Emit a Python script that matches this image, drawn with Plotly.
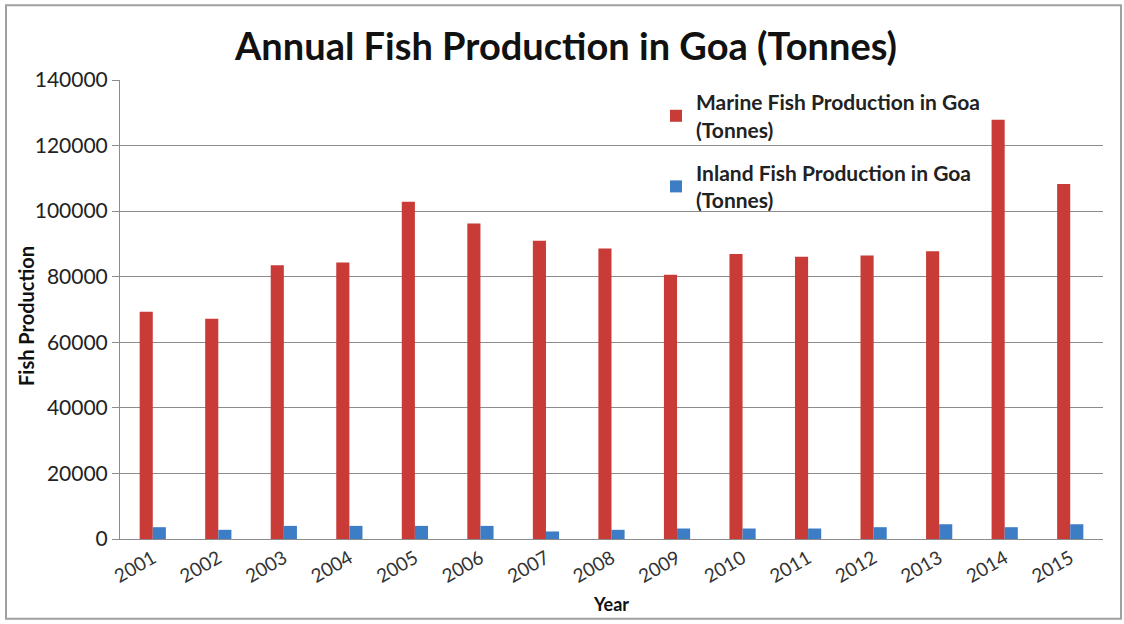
import plotly.graph_objects as go

years = ["2001", "2002", "2003", "2004", "2005", "2006", "2007", "2008",
         "2009", "2010", "2011", "2012", "2013", "2014", "2015"]
marine = [69300, 67200, 83500, 84300, 102900, 96200, 91000, 88600,
          80600, 86900, 86100, 86500, 87800, 127900, 108300]
inland = [3600, 2800, 4000, 4000, 4000, 4000, 2300, 2800,
          3200, 3200, 3200, 3600, 4500, 3600, 4500]

series_names = ["<b>Marine Fish Production in Goa</b><br><b>(Tonnes)</b>",
                "<b>Inland Fish Production in Goa</b><br><b>(Tonnes)</b>"]
colors = ["#C93B37", "#3C7DC6"]

fig = go.Figure()
fig.add_trace(go.Bar(x=years, y=marine, name=series_names[0], legendgroup="marine",
                     marker=dict(color=colors[0], line=dict(width=0))))
fig.add_trace(go.Bar(x=years, y=inland, name=series_names[1], legendgroup="inland",
                     marker=dict(color=colors[1], line=dict(width=0))))

L, R, T, B = 120, 21, 80, 83
W, H = 1124, 624
pw, ph = W - L - R, H - T - B

def px(x):
    return (x - L) / pw

def py(y):
    return (H - B - y) / ph

fig.update_layout(
    width=W, height=H,
    margin=dict(l=L, r=R, t=T, b=B),
    paper_bgcolor="white", plot_bgcolor="white",
    barmode="group", bargap=0.6, bargroupgap=0,
    title=dict(text="<b>Annual Fish Production in Goa (Tonnes)</b>",
               x=566 / W, xref="container", xanchor="center",
               y=1 - 47 / H, yanchor="middle",
               font=dict(family="Lato", size=38, color="#111111")),
    font=dict(family="Lato", color="#222222"),
    legend=dict(x=px(656), y=py(82), xanchor="left", yanchor="top",
                font=dict(family="Lato", size=21, color="#222222"),
                bgcolor="rgba(0,0,0,0)", tracegroupgap=13,
                itemwidth=30, traceorder="grouped"),
    xaxis=dict(showgrid=False, showline=True, linecolor="#8C8C8C", linewidth=1,
               ticks="", tickangle=-30,
               tickfont=dict(family="Lato", size=19, color="#333333"),
               title=dict(text="<b>Year</b>", standoff=12,
                          font=dict(family="Lato", size=18, color="#111111"))),
    yaxis=dict(range=[0, 140000], dtick=20000, showgrid=True,
               gridcolor="#8C8C8C", gridwidth=1,
               showline=True, linecolor="#8C8C8C", linewidth=1,
               ticks="outside", ticklen=7, tickcolor="#8C8C8C",
               tickformat="d",
               tickfont=dict(family="Lato", size=21, color="#222222")),
    annotations=[dict(text="<b>Fish Production</b>", textangle=-90,
                      xref="paper", yref="paper", x=px(26), y=py(317),
                      xanchor="center", yanchor="middle", showarrow=False,
                      font=dict(family="Lato", size=20, color="#111111"))],
    shapes=[dict(type="rect", xref="paper", yref="paper",
                 x0=px(6), x1=px(1121), y0=py(621), y1=py(5),
                 line=dict(color="#A0A0A0", width=2), layer="below")],
)

fig.write_html("out.html")
